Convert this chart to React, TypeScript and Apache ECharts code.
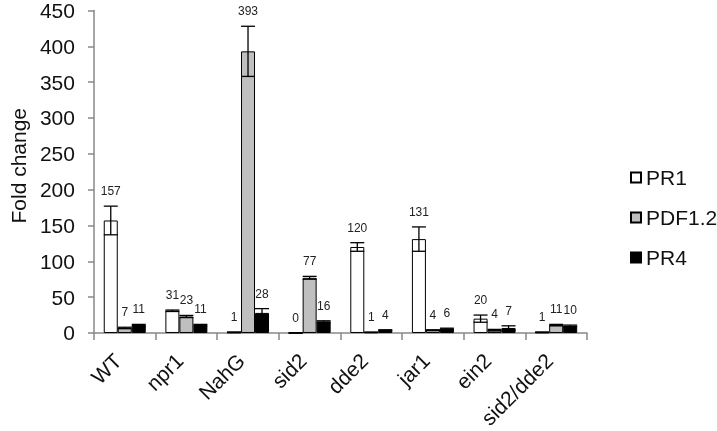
import React, { useEffect, useRef } from "react";
import * as echarts from "echarts";

const categories = ["WT", "npr1", "NahG", "sid2", "dde2", "jar1", "ein2", "sid2/dde2"];
const seriesNames = ["PR1", "PDF1.2", "PR4"];
const pr1 = [157, 31, 1, 0, 120, 131, 20, 1];
const pdf12 = [7, 23, 393, 77, 1, 4, 4, 11];
const pr4 = [11, 11, 28, 16, 4, 6, 7, 10];
const pr1Err = [20, 1, 0.5, 0.3, 6, 17, 5, 0.5];
const pdf12Err = [1, 1.5, 35, 2, 0.3, 0.5, 1, 1];
const pr4Err = [1, 1, 6, 1, 0.5, 0.7, 3, 1];
const yTicks = { min: 0, max: 450, interval: 50 };

const FONT = "'Liberation Sans', Arial, sans-serif";
const BAR_W = 14;

function makeErr(name: string, vals: number[], errs: number[], offset: number) {
  return {
    type: "custom",
    name,
    silent: true,
    clip: false,
    z: 10,
    data: vals.map((v, i) => [i, v, errs[i]]),
    renderItem: (_params: any, api: any) => {
      const i = api.value(0);
      const v = api.value(1);
      const e = api.value(2);
      const x = api.coord([i, v])[0] + offset;
      const top = api.coord([i, v + e])[1];
      const bot = api.coord([i, Math.max(v - e, 0)])[1];
      const hw = BAR_W / 2;
      const st = { stroke: "#000", lineWidth: 1.3 };
      return {
        type: "group",
        children: [
          { type: "line", shape: { x1: x, y1: top, x2: x, y2: bot }, style: st },
          { type: "line", shape: { x1: x - hw, y1: top, x2: x + hw, y2: top }, style: st },
          { type: "line", shape: { x1: x - hw, y1: bot, x2: x + hw, y2: bot }, style: st },
          {
            type: "text",
            x,
            y: top - 9,
            style: {
              text: String(v),
              align: "center",
              verticalAlign: "bottom",
              fontSize: 12,
              fontFamily: FONT,
              fill: "#222",
            },
          },
        ],
      };
    },
  };
}

export default function App() {
  const ref = useRef<HTMLDivElement>(null);
  useEffect(() => {
    if (!ref.current) return;
    const chart = echarts.init(ref.current, null, { renderer: "svg" });
    const barStyle = (color: string) => ({ color, borderColor: "#000", borderWidth: 1 });
    chart.setOption({
      animation: false,
      textStyle: { fontFamily: FONT },
      grid: { left: 84, right: 130, top: 10, bottom: 96, containLabel: false },
      legend: {
        data: seriesNames,
        orient: "vertical",
        left: 625,
        top: 162,
        itemWidth: 10,
        itemHeight: 10,
        itemGap: 19,
        icon: "rect",
        textStyle: { fontSize: 21, color: "#111", fontFamily: FONT },
      },
      xAxis: {
        type: "category",
        data: categories,
        axisLine: { lineStyle: { color: "#888", width: 1.5 } },
        axisTick: { show: true, length: 7, lineStyle: { color: "#888", width: 1.5 } },
        axisLabel: {
          interval: 0,
          rotate: 45,
          fontSize: 21,
          color: "#111",
          margin: 17,
          padding: [0, 10, 0, 0],
          fontFamily: FONT,
        },
      },
      yAxis: {
        type: "value",
        min: yTicks.min,
        max: yTicks.max,
        interval: yTicks.interval,
        name: "Fold change",
        nameLocation: "middle",
        nameGap: 61,
        nameTextStyle: { fontSize: 21, color: "#111", fontFamily: FONT, padding: [0, 0, 0, 12] },
        axisLine: { show: true, lineStyle: { color: "#888", width: 1.5 } },
        axisTick: { show: true, length: 6, lineStyle: { color: "#888", width: 1.5 } },
        axisLabel: { fontSize: 21, color: "#111", margin: 19, fontFamily: FONT },
        splitLine: { show: false },
      },
      series: [
        { type: "bar", name: seriesNames[0], data: pr1, barWidth: BAR_W, barGap: "0%", itemStyle: barStyle("#ffffff") },
        { type: "bar", name: seriesNames[1], data: pdf12, barWidth: BAR_W, barGap: "0%", itemStyle: barStyle("#bfbfbf") },
        { type: "bar", name: seriesNames[2], data: pr4, barWidth: BAR_W, barGap: "0%", itemStyle: barStyle("#000000") },
        makeErr("errPR1", pr1, pr1Err, -BAR_W),
        makeErr("errPDF", pdf12, pdf12Err, 0),
        makeErr("errPR4", pr4, pr4Err, BAR_W),
      ],
    });
    return () => chart.dispose();
  }, []);
  return <div ref={ref} style={{ position: "fixed", left: 0, top: 0, width: 717, height: 431 }} />;
}
